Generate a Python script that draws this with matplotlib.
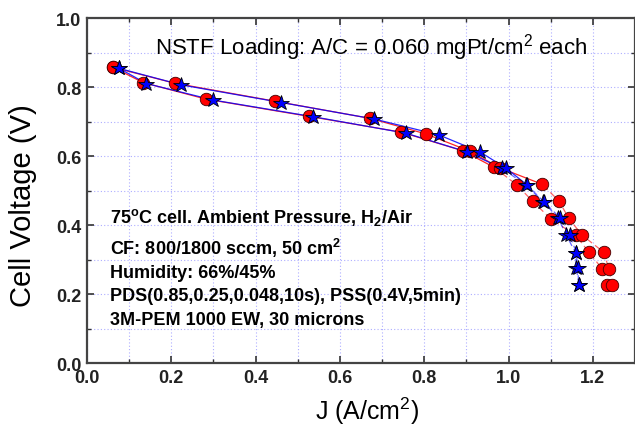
import numpy as np
import matplotlib
matplotlib.use('Agg')
import matplotlib.pyplot as plt
from matplotlib.ticker import MultipleLocator

plt.rcParams['font.family'] = ['Liberation Sans', 'DejaVu Sans']
plt.rcParams['mathtext.fontset'] = 'custom'
plt.rcParams['mathtext.rm'] = 'Liberation Sans'
plt.rcParams['mathtext.bf'] = 'Liberation Sans:bold'

# red circles, scan order (down the low-J branch, back up the high-J branch)
red_j = [0.062, 0.133, 0.282, 0.526, 0.746, 0.892, 0.966, 1.020, 1.057, 1.100, 1.159, 1.191, 1.222, 1.234,
         1.246, 1.238, 1.226, 1.175, 1.143, 1.120, 1.080, 0.979, 0.908, 0.804, 0.672, 0.445, 0.208, 0.062]
red_v = [0.857, 0.813, 0.765, 0.715, 0.669, 0.615, 0.567, 0.516, 0.469, 0.418, 0.370, 0.321, 0.273, 0.226,
         0.226, 0.273, 0.321, 0.370, 0.419, 0.469, 0.518, 0.566, 0.614, 0.664, 0.709, 0.759, 0.811, 0.857]

# blue stars, same scan order
blue_j = [0.076, 0.141, 0.300, 0.536, 0.757, 0.901, 0.985, 1.041, 1.082, 1.118, 1.137, 1.159, 1.161, 1.167,
          1.167, 1.164, 1.161, 1.145, 1.122, 1.084, 1.043, 0.995, 0.932, 0.835, 0.682, 0.461, 0.224, 0.076]
blue_v = [0.854, 0.810, 0.762, 0.714, 0.666, 0.612, 0.564, 0.516, 0.468, 0.420, 0.371, 0.319, 0.274, 0.226,
          0.226, 0.274, 0.320, 0.371, 0.421, 0.467, 0.517, 0.564, 0.612, 0.661, 0.707, 0.755, 0.806, 0.854]

title_txt = 'NSTF Loading: A/C = 0.060 mgPt/cm$^2$ each'
notes = ['75$^{\\mathbf{o}}$C cell. Ambient Pressure, H$_{\\mathbf{2}}$/Air',
         'CF: 800/1800 sccm, 50 cm$^{\\mathbf{2}}$',
         'Humidity: 66%/45%',
         'PDS(0.85,0.25,0.048,10s), PSS(0.4V,5min)',
         '3M-PEM 1000 EW, 30 microns']


def draw_loop(ax, j, v, color):
    j = np.array(j)
    v = np.array(v)
    hi = v >= 0.6
    n = len(v)
    # solid at low current, dashed at high current
    first = np.argmin(hi) + 1
    last = n - np.argmin(hi[::-1]) - 1
    ax.plot(j[:first], v[:first], '-', color=color, lw=0.9, alpha=0.85, zorder=2)
    ax.plot(j[last - 1:], v[last - 1:], '-', color=color, lw=0.9, alpha=0.85, zorder=2)
    ax.plot(j[first - 1:last], v[first - 1:last], '--', color=color, lw=0.9,
            dashes=(5, 3), alpha=0.6, zorder=2)


fig = plt.figure(figsize=(6.35, 4.27), dpi=100)
ax = fig.add_axes([0.137, 0.1475, 0.863, 0.808])

draw_loop(ax, red_j, red_v, 'red')
draw_loop(ax, blue_j, blue_v, 'blue')

ax.plot(red_j, red_v, 'o', ls='none', color='red', mec='#400000', mew=0.6, ms=9, zorder=3)
ax.plot(blue_j, blue_v, '*', ls='none', color='blue', mec='black', mew=0.6, ms=11.5, zorder=4)

ax.set_xlim(0, 1.3)
ax.set_ylim(0, 1.0)
ax.xaxis.set_major_locator(MultipleLocator(0.2))
ax.xaxis.set_minor_locator(MultipleLocator(0.1))
ax.yaxis.set_major_locator(MultipleLocator(0.2))
ax.yaxis.set_minor_locator(MultipleLocator(0.1))
ax.grid(True, which='both', color='#9999ff', ls=(0, (1, 2)), lw=0.8, alpha=0.8)
ax.set_axisbelow(True)

ax.tick_params(which='both', direction='in', top=True, right=True, color='#333333')
ax.tick_params(which='major', length=5, width=1.2, labelsize=13)
ax.tick_params(axis='x', which='major', pad=4)
ax.tick_params(axis='y', which='major', pad=4)
ax.tick_params(which='minor', length=3, width=1.0)
for lab in ax.get_xticklabels() + ax.get_yticklabels():
    lab.set_fontweight('bold')
    lab.set_color('#222222')
for sp in ax.spines.values():
    sp.set_color('#444444')
    sp.set_linewidth(1.6)

ax.set_xlabel('J (A/cm$^2$)', fontsize=18, va='baseline')
ax.set_ylabel('Cell Voltage (V)', fontsize=21)
ax.xaxis.set_label_coords(0.511, -0.162)
ax.yaxis.set_label_coords(-0.092, 0.458)

ax.text(0.675, 0.896, title_txt, fontsize=16, ha='center', va='baseline')
note_y = [0.409, 0.316, 0.249, 0.183, 0.113]
for line, y in zip(notes, note_y):
    ax.text(0.054, y, line, fontsize=13, fontweight='bold', ha='left', va='baseline')

fig.savefig('out.png', dpi=100)
